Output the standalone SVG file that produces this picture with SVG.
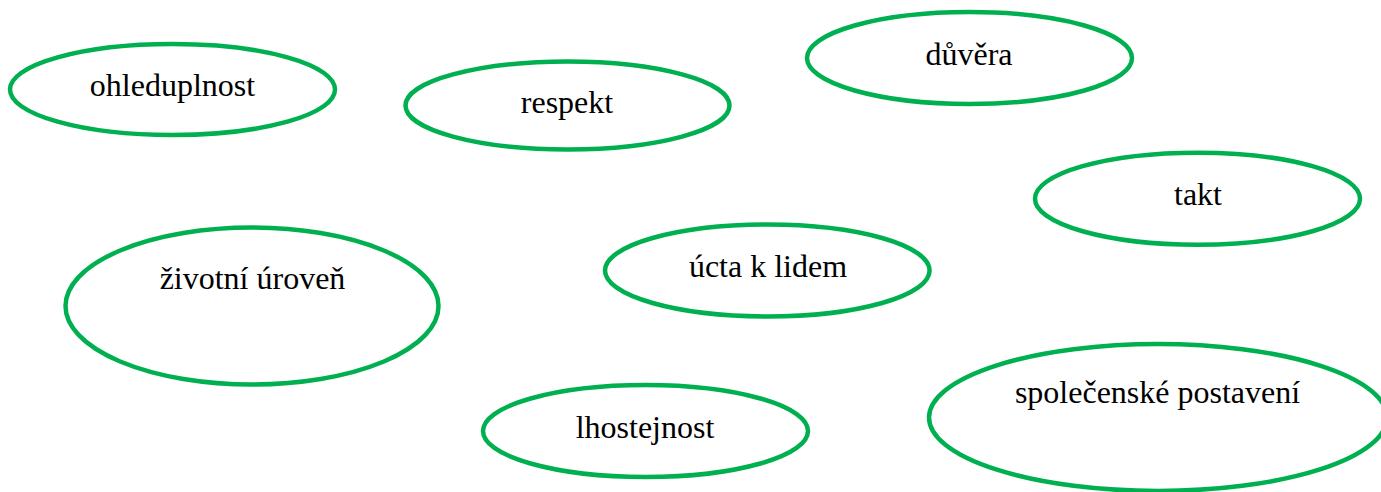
<svg xmlns="http://www.w3.org/2000/svg" width="1381" height="492" viewBox="0 0 1381 492">
<style>
.n ellipse{fill:#fff;stroke:#00B050;stroke-width:4.5}
.n text{font-family:"Liberation Serif","Times New Roman",serif;font-size:32px;fill:#000;text-anchor:middle}
</style>
<rect width="1381" height="492" fill="#fff"/>
<g id="connectors"></g>
<g id="ohleduplnost" class="n"><ellipse cx="172.5" cy="89.5" rx="162.5" ry="45.5"/><text x="172.5" y="95.5">ohleduplnost</text></g>
<g id="respekt" class="n"><ellipse cx="567.5" cy="105.5" rx="162" ry="44"/><text x="567" y="112.5">respekt</text></g>
<g id="duvera" class="n"><ellipse cx="969.5" cy="58" rx="162.5" ry="46"/><text x="969" y="65">důvěra</text></g>
<g id="takt" class="n"><ellipse cx="1197.5" cy="198.7" rx="162.5" ry="46"/><text x="1198" y="205">takt</text></g>
<g id="zivotni-uroven" class="n"><ellipse cx="252" cy="306" rx="186.5" ry="78.5"/><text x="252.5" y="289">životní úroveň</text></g>
<g id="ucta-k-lidem" class="n"><ellipse cx="767.3" cy="270.5" rx="162.3" ry="46"/><text x="768" y="276.7">úcta k lidem</text></g>
<g id="lhostejnost" class="n"><ellipse cx="645.5" cy="431" rx="162.5" ry="46"/><text x="645" y="438">lhostejnost</text></g>
<g id="spolecenske-postaveni" class="n"><ellipse cx="1158" cy="417.5" rx="229" ry="73.5"/><text x="1157.5" y="402.7">společenské postavení</text></g>
</svg>
